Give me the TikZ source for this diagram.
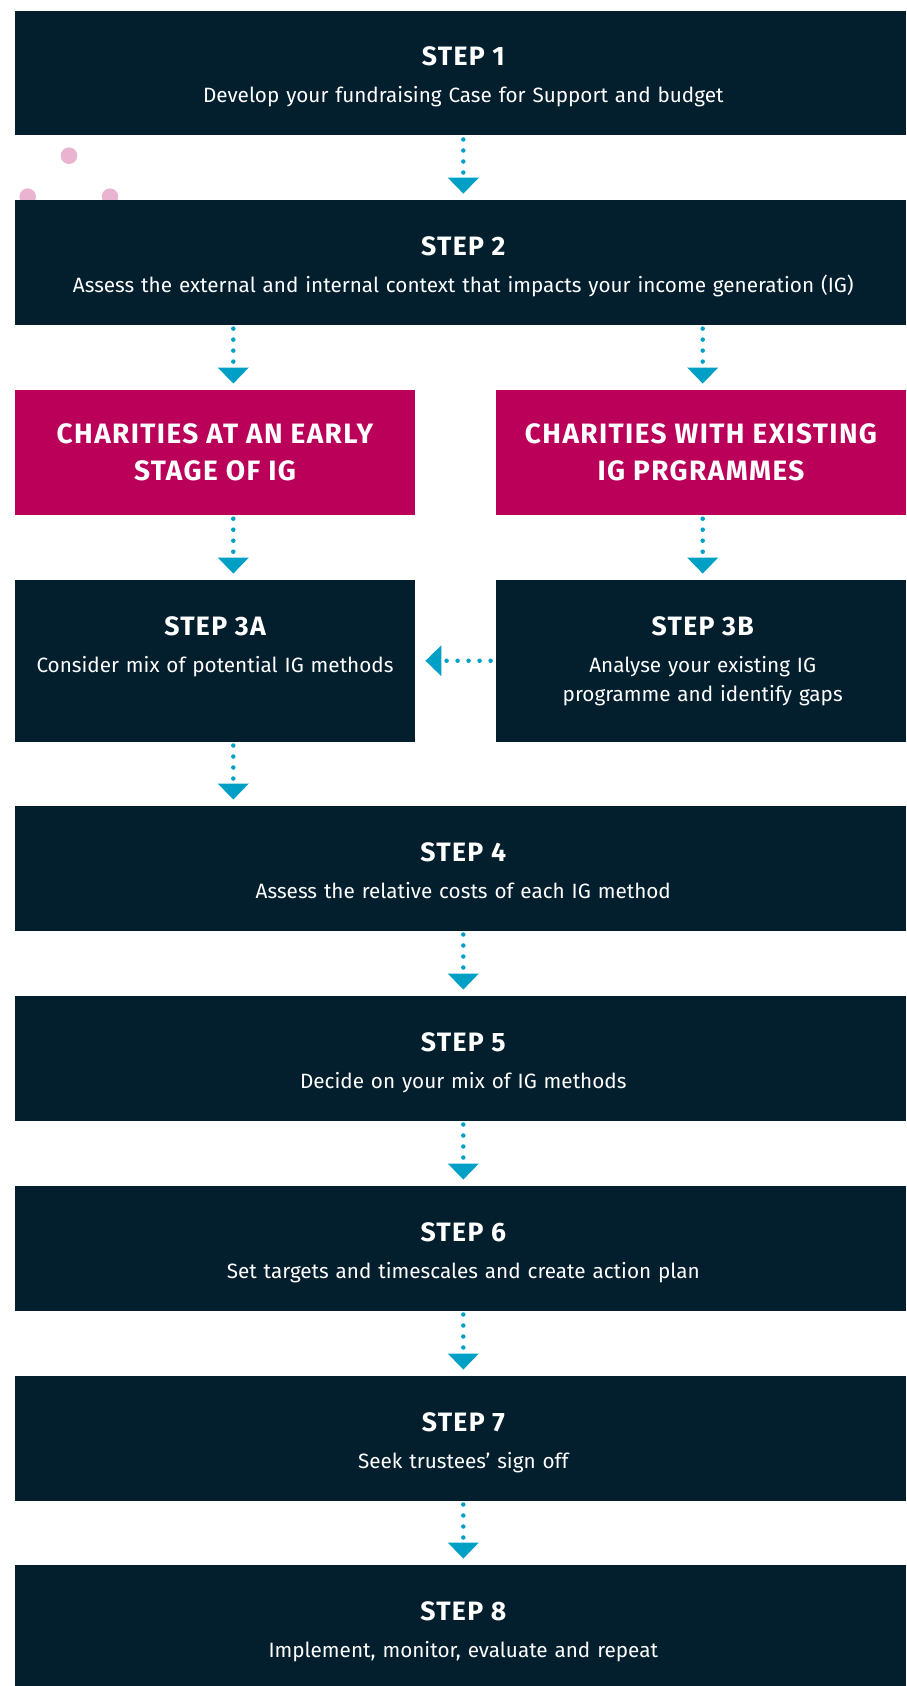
\documentclass[tikz,border=0pt]{standalone}
\usepackage{fontspec}
\setmainfont{Fira Sans}
\newfontfamily\stepfont[LetterSpace=5]{Fira Sans}
\usepackage{tikz}
\usetikzlibrary{arrows.meta, positioning, calc}
\definecolor{navy}{RGB}{3,31,45}
\definecolor{berry}{RGB}{186,0,88}
\definecolor{flowblue}{RGB}{0,160,198}
\definecolor{blush}{RGB}{234,179,208}

\begin{document}
\begin{tikzpicture}[x=0.5pt, y=-0.5pt,
  stepbox/.style={fill=navy, inner sep=0pt, minimum width=445.5pt, minimum height=62.25pt},
  halfbox/.style={fill=navy, inner sep=0pt, minimum height=80.75pt},
  groupbox/.style={fill=berry, inner sep=0pt, minimum height=62.35pt, text=white, align=center,
                   font=\stepfont\bfseries\fontsize{14}{18.6}\selectfont},
  head/.style={anchor=base, inner sep=0pt, text=white, font=\stepfont\bfseries\fontsize{13.3}{15}\selectfont},
  body/.style={anchor=base, inner sep=0pt, text=white, align=center, text width=#1,
               font=\fontsize{10.35}{14.5}\selectfont},
  body/.default=430pt,
  flow/.style={flowblue, line width=2.25pt, line cap=round, dash pattern=on 0pt off 5.5pt,
               shorten <=1.8pt, shorten >=3pt, -{Triangle[width=15pt, length=8pt]}}]
  \useasboundingbox (0,0) rectangle (906,1686);
  % arrow columns
  \coordinate (colL) at (233.3,0);
  \coordinate (colM) at (463.3,0);
  \coordinate (colR) at (702.7,0);
  % dots behind step 2
  \fill[blush] (69,155.7) circle (4.15pt);
  \fill[blush] (27.7,196.7) circle (4.15pt);
  \fill[blush] (110,196.7) circle (4.15pt);
  % boxes
  \node[stepbox] (s1) at (460.5,73.25) {};
  \node[stepbox] (s2) at (460.5,262.35) {};
  \node[groupbox, minimum width=200pt] (early) at (215,452.35) {CHARITIES AT AN EARLY\\STAGE OF IG};
  \node[groupbox, minimum width=205pt] (existing) at (701,452.35) {CHARITIES WITH EXISTING\\IG PRGRAMMES};
  \node[halfbox, minimum width=200pt] (s3a) at (215,660.75) {};
  \node[halfbox, minimum width=205pt] (s3b) at (701,660.75) {};
  \node[stepbox] (s4) at (460.5,868.25) {};
  \node[stepbox] (s5) at (460.5,1058.25) {};
  \node[stepbox] (s6) at (460.5,1248.25) {};
  \node[stepbox] (s7) at (460.5,1438.25) {};
  \node[stepbox, minimum height=60.5pt] (s8) at (460.5,1625.5) {};
  % texts
  \node[head] (t1) at (463.3,66) {STEP 1};
  \node[body] (b1) at (463.3,103) {Develop your fundraising Case for Support and budget};
  \node[head] (t2) at (463.3,255) {STEP 2};
  \node[body] (b2) at (463.3,292) {Assess the external and internal context that impacts your income generation (IG)};
  \node[head] (t3a) at (215,635) {STEP 3A};
  \node[body=195pt] (b3a) at (215,672) {Consider mix of potential IG methods};
  \node[head] (t3b) at (702.7,635) {STEP 3B};
  \node[body=195pt] (b3b) at (702.7,672) {Analyse your existing IG\\programme and identify gaps};
  \node[head] (t4) at (463.3,861) {STEP 4};
  \node[body] (b4) at (463.3,898) {Assess the relative costs of each IG method};
  \node[head] (t5) at (463.3,1051) {STEP 5};
  \node[body] (b5) at (463.3,1088) {Decide on your mix of IG methods};
  \node[head] (t6) at (463.3,1241) {STEP 6};
  \node[body] (b6) at (463.3,1278) {Set targets and timescales and create action plan};
  \node[head] (t7) at (463.3,1431) {STEP 7};
  \node[body] (b7) at (463.3,1468) {Seek trustees' sign off};
  \node[head] (t8) at (463.3,1620) {STEP 8};
  \node[body] (b8) at (463.3,1657) {Implement, monitor, evaluate and repeat};
  % connectors
  \draw[flow] (s1.south -| colM) -- (s2.north -| colM);
  \draw[flow] (s2.south -| colL) -- (early.north -| colL);
  \draw[flow] (s2.south -| colR) -- (existing.north -| colR);
  \draw[flow] (early.south -| colL) -- (s3a.north -| colL);
  \draw[flow] (existing.south -| colR) -- (s3b.north -| colR);
  \draw[flow, shorten <=2.5pt, shorten >=5pt] (s3b.west) -- (s3a.east);
  \draw[flow] (s3a.south -| colL) -- (s4.north -| colL);
  \draw[flow] (s4.south -| colM) -- (s5.north -| colM);
  \draw[flow] (s5.south -| colM) -- (s6.north -| colM);
  \draw[flow] (s6.south -| colM) -- (s7.north -| colM);
  \draw[flow] (s7.south -| colM) -- (s8.north -| colM);
\end{tikzpicture}
\end{document}
